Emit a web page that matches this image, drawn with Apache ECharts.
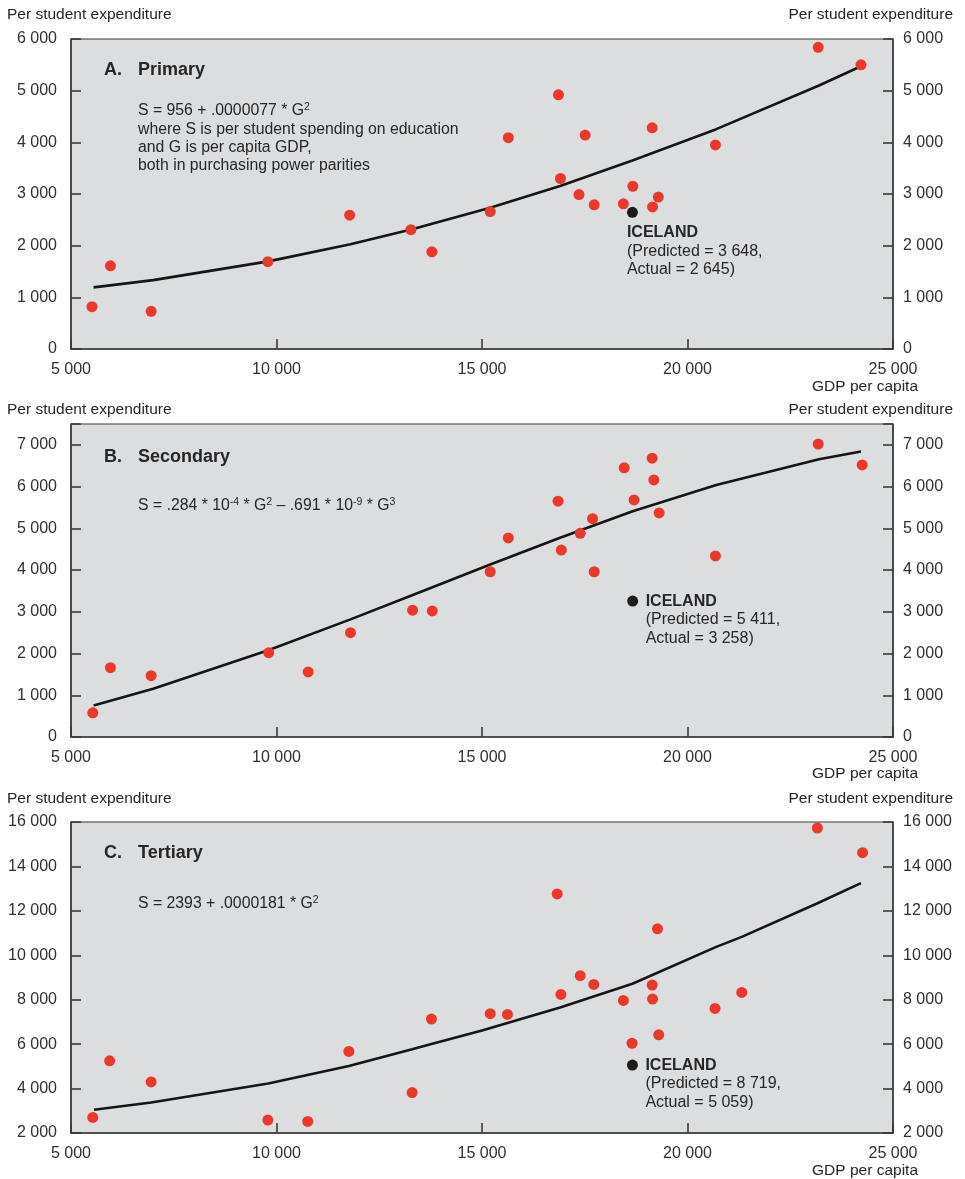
<!DOCTYPE html>
<html>
<head>
<meta charset="utf-8">
<title>Per student expenditure vs GDP per capita</title>
<script src="https://cdn.jsdelivr.net/npm/echarts@6.0.0/dist/echarts.min.js"></script>
<style>
  html, body { margin: 0; padding: 0; background: #ffffff; }
  #chart { width: 965px; height: 1179px; }
</style>
</head>
<body>
<div id="chart"></div>
<script>
// ---------- Data ----------
// Panel A: primary education
const gdpA   = [5510, 5960, 6950, 9790, 11780, 13270, 13780, 15200, 15640, 16860, 16910, 17510, 17360, 17730, 18440, 18670, 19140, 19150, 19290, 20680, 23180, 24220];
const spendA = [820, 1610, 730, 1690, 2590, 2310, 1880, 2660, 4090, 4920, 3300, 4140, 2990, 2790, 2810, 3150, 4280, 2750, 2940, 3950, 5840, 5500];
const fitGdpA = [5550, 7000, 9800, 11800, 13300, 15200, 16900, 18660, 20700, 23200, 24220];
const fitA    = [1193, 1333, 1696, 2028, 2318, 2735, 3155, 3648, 4255, 5100, 5473];
const icelandA = { gdp: 18660, actual: 2645, predicted: 3648 };

// Panel B: secondary education
const gdpB   = [5530, 5960, 6950, 9810, 10770, 11800, 13310, 13790, 15200, 15640, 16850, 16930, 17390, 17690, 17730, 18460, 18700, 19140, 19180, 19310, 20680, 23180, 24250];
const spendB = [580, 1660, 1470, 2020, 1560, 2500, 3040, 3020, 3960, 4770, 5650, 4480, 4880, 5230, 3960, 6450, 5680, 6680, 6160, 5370, 4340, 7020, 6520];
const fitGdpB = [5550, 7000, 9800, 11800, 13300, 15200, 16900, 18666, 20700, 23200, 24220];
const fitB    = [757, 1155, 2077, 2819, 3398, 4135, 4776, 5411, 6040, 6657, 6842];
const icelandB = { gdp: 18666, actual: 3258, predicted: 5411 };

// Panel C: tertiary education
const gdpC   = [5530, 5940, 6950, 9790, 10760, 11760, 13300, 13770, 15200, 15620, 16830, 16920, 17390, 17720, 18440, 18650, 19140, 19150, 19270, 19300, 20670, 21320, 23160, 24260];
const spendC = [2700, 5250, 4300, 2580, 2520, 5670, 3820, 7130, 7370, 7340, 12760, 8240, 9080, 8690, 7970, 6040, 8660, 8030, 11190, 6420, 7610, 8330, 15730, 14620];
const fitGdpC = [5560, 6950, 9800, 11760, 13300, 13770, 15000, 16900, 18660, 20700, 21320, 23150, 24220];
const fitC    = [3050, 3370, 4230, 5020, 5770, 6010, 6610, 7650, 8719, 10380, 10830, 12330, 13250];
const icelandC = { gdp: 18660, actual: 5059, predicted: 8719 };

// Axis ranges
const xRange = { min: 5000, max: 25000, interval: 5000 };
const yRanges = [
  { min: 0,    max: 6000,  interval: 1000 },
  { min: 0,    max: 7500,  interval: 1000 },
  { min: 2000, max: 16000, interval: 2000 }
];

// Text
const panelLetters = ['A.', 'B.', 'C.'];
const panelNames   = ['Primary', 'Secondary', 'Tertiary'];
const yAxisTitle = 'Per student expenditure';
const xAxisTitle = 'GDP per capita';
const equationLines = [
  ['S = 956 + .0000077 * G{sup|2}',
   'where S is per student spending on education',
   'and G is per capita GDP,',
   'both in purchasing power parities'],
  ['S = .284 * 10{sup|-4} * G{sup|2} \u2013 .691 * 10{sup|-9} * G{sup|3}'],
  ['S = 2393 + .0000181 * G{sup|2}']
];

// ---------- Layout & style ----------
const FONT = "'Liberation Sans', Arial, Helvetica, sans-serif";
const INK = '#262626';
const AXIS = '#3a3a3a';
const RED = '#eb382d';
const FILL = '#dcdddf';

const layout = [
  { top: 39,  height: 310, yTitle: 14.5, xTitle: 387,  title: 70,  eq: [110.5, 129.5, 147.5, 165.5], iceLabel: [0, 17] },
  { top: 424, height: 313, yTitle: 409.5, xTitle: 773.5, title: 457.5, eq: [505.5],                 iceLabel: [18.5, -3.5] },
  { top: 822, height: 311, yTitle: 798.5, xTitle: 1170.5, title: 853.5, eq: [903.5],                iceLabel: [18.5, -3.5] }
];

const fmt = v => String(v).replace(/\B(?=(\d{3})+(?!\d))/g, ' ');
const pairs = (xs, ys) => xs.map((x, i) => [x, ys[i]]);

const datasets = [
  { gdp: gdpA, spend: spendA, fitX: fitGdpA, fitY: fitA, ice: icelandA },
  { gdp: gdpB, spend: spendB, fitX: fitGdpB, fitY: fitB, ice: icelandB },
  { gdp: gdpC, spend: spendC, fitX: fitGdpC, fitY: fitC, ice: icelandC }
];

const grids = [], xAxes = [], yAxes = [], series = [], graphics = [];

layout.forEach((L, i) => {
  const yr = yRanges[i];
  grids.push({
    left: 71, right: 72, top: L.top, height: L.height,
    show: true, backgroundColor: FILL, borderColor: AXIS, borderWidth: 1,
    containLabel: false, outerBoundsMode: 'none'
  });

  const axisLine = { show: true, lineStyle: { color: AXIS, width: 1.6 } };
  const axisTick = { show: true, inside: true, length: 10, lineStyle: { color: AXIS, width: 1.6 } };
  const labelBase = { fontSize: 16, color: '#303030', fontFamily: FONT, showMinLabel: true, showMaxLabel: true };

  xAxes.push({
    gridIndex: i, type: 'value', min: xRange.min, max: xRange.max, interval: xRange.interval,
    axisLine, axisTick, splitLine: { show: false },
    axisLabel: Object.assign({ margin: 13, formatter: v => fmt(v) }, labelBase)
  });
  const yLabelFmt = v => (v % yr.interval === 0 ? fmt(v) : '');
  yAxes.push({
    gridIndex: i, type: 'value', position: 'left', min: yr.min, max: yr.max, interval: yr.interval,
    axisLine, axisTick, splitLine: { show: false },
    axisLabel: Object.assign({ margin: 14, formatter: yLabelFmt }, labelBase)
  });
  yAxes.push({
    gridIndex: i, type: 'value', position: 'right', min: yr.min, max: yr.max, interval: yr.interval,
    axisLine, axisTick, splitLine: { show: false },
    axisLabel: Object.assign({ margin: 10, formatter: yLabelFmt }, labelBase)
  });

  const d = datasets[i];
  // fitted relationship
  series.push({
    type: 'line', xAxisIndex: i, yAxisIndex: 2 * i,
    data: pairs(d.fitX, d.fitY), showSymbol: false, symbol: 'none',
    lineStyle: { color: '#151515', width: 2.6 }, z: 2, silent: true
  });
  // countries
  series.push({
    type: 'scatter', xAxisIndex: i, yAxisIndex: 2 * i,
    data: pairs(d.gdp, d.spend), symbol: 'circle', symbolSize: 11,
    itemStyle: { color: RED, opacity: 1 }, z: 3, silent: true
  });
  // Iceland
  series.push({
    type: 'scatter', xAxisIndex: i, yAxisIndex: 2 * i,
    data: [[d.ice.gdp, d.ice.actual]], symbol: 'circle', symbolSize: 11,
    itemStyle: { color: '#1b1b1b', opacity: 1 }, z: 4, silent: true,
    label: {
      show: true, position: L.iceLabel, align: 'left', verticalAlign: 'top',
      formatter: () => '{b|ICELAND}\n{n|(Predicted = ' + fmt(d.ice.predicted) + ',}\n{n|Actual = ' + fmt(d.ice.actual) + ')}',
      rich: {
        b: { fontFamily: FONT, fontSize: 16, fontWeight: 'bold', color: INK, lineHeight: 18.5 },
        n: { fontFamily: FONT, fontSize: 16, color: INK, lineHeight: 18.5 }
      }
    }
  });

  // axis titles
  graphics.push({ type: 'text', x: 7, y: L.yTitle, silent: true,
    style: { text: yAxisTitle, font: '15.5px ' + FONT, fill: INK, align: 'left', verticalAlign: 'middle' } });
  graphics.push({ type: 'text', x: 953, y: L.yTitle, silent: true,
    style: { text: yAxisTitle, font: '15.5px ' + FONT, fill: INK, align: 'right', verticalAlign: 'middle' } });
  graphics.push({ type: 'text', x: 918, y: L.xTitle, silent: true,
    style: { text: xAxisTitle, font: '15.5px ' + FONT, fill: INK, align: 'right', verticalAlign: 'middle' } });

  // panel title
  graphics.push({ type: 'text', x: 104, y: L.title, silent: true,
    style: { text: panelLetters[i], font: 'bold 18px ' + FONT, fill: INK, align: 'left', verticalAlign: 'middle' } });
  graphics.push({ type: 'text', x: 138, y: L.title, silent: true,
    style: { text: panelNames[i], font: 'bold 18px ' + FONT, fill: INK, align: 'left', verticalAlign: 'middle' } });

  // regression equation
  equationLines[i].forEach((line, k) => {
    graphics.push({ type: 'text', x: 138, y: L.eq[k], silent: true,
      style: {
        text: line, fontFamily: FONT, fontSize: 15.8, fill: INK, align: 'left', verticalAlign: 'middle',
        rich: {
          sup: { fontFamily: FONT, fontSize: 10.5, fill: INK, verticalAlign: 'top', lineHeight: 18 }
        }
      } });
  });
});

const chart = echarts.init(document.getElementById('chart'), null, { renderer: 'canvas' });
chart.setOption({
  animation: false,
  backgroundColor: '#ffffff',
  textStyle: { fontFamily: FONT },
  grid: grids,
  xAxis: xAxes,
  yAxis: yAxes,
  series: series,
  graphic: graphics
});
</script>
</body>
</html>
